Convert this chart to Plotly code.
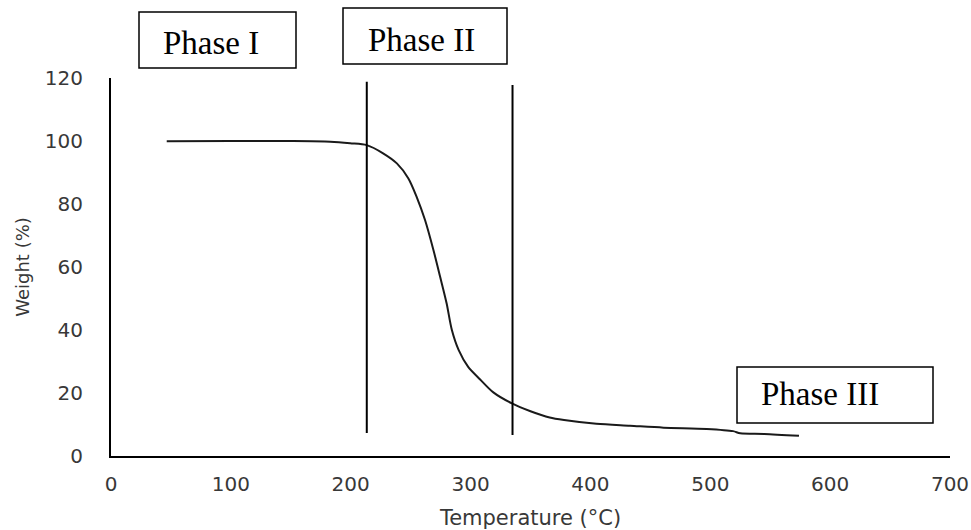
import plotly.graph_objects as go

# TGA curve data
temperature = [46.5, 100, 150, 183, 199.5, 213.4, 227, 238.5, 248, 255, 262, 269, 274.6,
               280, 284.4, 290, 298, 308, 319, 334.5, 350, 366, 378, 405, 433, 461, 497,
               519, 525, 545, 574]
weight = [99.9, 100, 100, 99.8, 99.3, 98.7, 96.1, 92.9, 88.2, 82.3, 74.9, 65.4, 56.9,
          48.5, 40, 33.7, 28.3, 24.3, 20.2, 16.7, 14.2, 12.2, 11.4, 10.2, 9.6, 9.0, 8.6,
          7.9, 7.2, 7.0, 6.4]

# Phase boundary lines
boundary_temps = [213.4, 335]
boundary_low = [7.3, 6.7]
boundary_high = [118.8, 117.8]

phase_labels = ["Phase I", "Phase II", "Phase III"]

x_ticks = [0, 100, 200, 300, 400, 500, 600, 700]
y_ticks = [0, 20, 40, 60, 80, 100, 120]

W, H = 971, 530
L, R, T, B = 111, 21, 78, 74
pw, ph = W - L - R, H - T - B


def px(xp):
    return (xp - L) / pw


def py(yp):
    return (H - B - yp) / ph


fig = go.Figure()

fig.add_trace(go.Scatter(
    x=temperature, y=weight, mode="lines",
    line=dict(color="#1a1a1a", width=2, shape="spline", smoothing=0.8),
    showlegend=False, hoverinfo="skip"))

for t, lo, hi in zip(boundary_temps, boundary_low, boundary_high):
    fig.add_trace(go.Scatter(
        x=[t, t], y=[lo, hi], mode="lines",
        line=dict(color="#000000", width=2),
        showlegend=False, hoverinfo="skip"))

# Phase label boxes (pixel layout -> paper coordinates)
boxes = [
    (139, 12, 296, 68, 211, 43),
    (343, 8, 507, 64, 421, 40),
    (737, 367, 933, 423, 820, 394),
]
for (x0, y0, x1, y1, tx, ty), label in zip(boxes, phase_labels):
    fig.add_shape(type="rect", xref="paper", yref="paper",
                  x0=px(x0), x1=px(x1), y0=py(y1), y1=py(y0),
                  line=dict(color="#000000", width=1.5), fillcolor="white")
    fig.add_annotation(xref="paper", yref="paper", x=px(tx), y=py(ty),
                       text=label, showarrow=False, xanchor="center", yanchor="middle",
                       font=dict(family="Liberation Serif", size=33, color="#000000"))

tick_font = dict(family="DejaVu Sans", size=20, color="#383838")
xtitle_font = dict(family="DejaVu Sans", size=21, color="#383838")
ytitle_font = dict(family="DejaVu Sans", size=18, color="#383838")

fig.update_layout(
    width=W, height=H,
    margin=dict(l=L, r=R, t=T, b=B, pad=0, autoexpand=False),
    paper_bgcolor="white", plot_bgcolor="white",
    xaxis=dict(range=[0, 700], tickvals=x_ticks, ticktext=[str(v) for v in x_ticks],
               showgrid=False, zeroline=False, showline=True, linecolor="#000000",
               linewidth=2, ticks="", tickfont=tick_font, ticklabelstandoff=9,
               automargin=False,
               title=dict(text="Temperature (°C)", font=xtitle_font, standoff=22)),
    yaxis=dict(range=[0, 120], tickvals=y_ticks, ticktext=[str(v) for v in y_ticks],
               showgrid=False, zeroline=False, showline=True, linecolor="#000000",
               linewidth=2, ticks="", tickfont=tick_font, ticklabelstandoff=22,
               automargin=False,
               title=dict(text="Weight (%)", font=ytitle_font, standoff=11)),
)

fig.write_html("out.html")
